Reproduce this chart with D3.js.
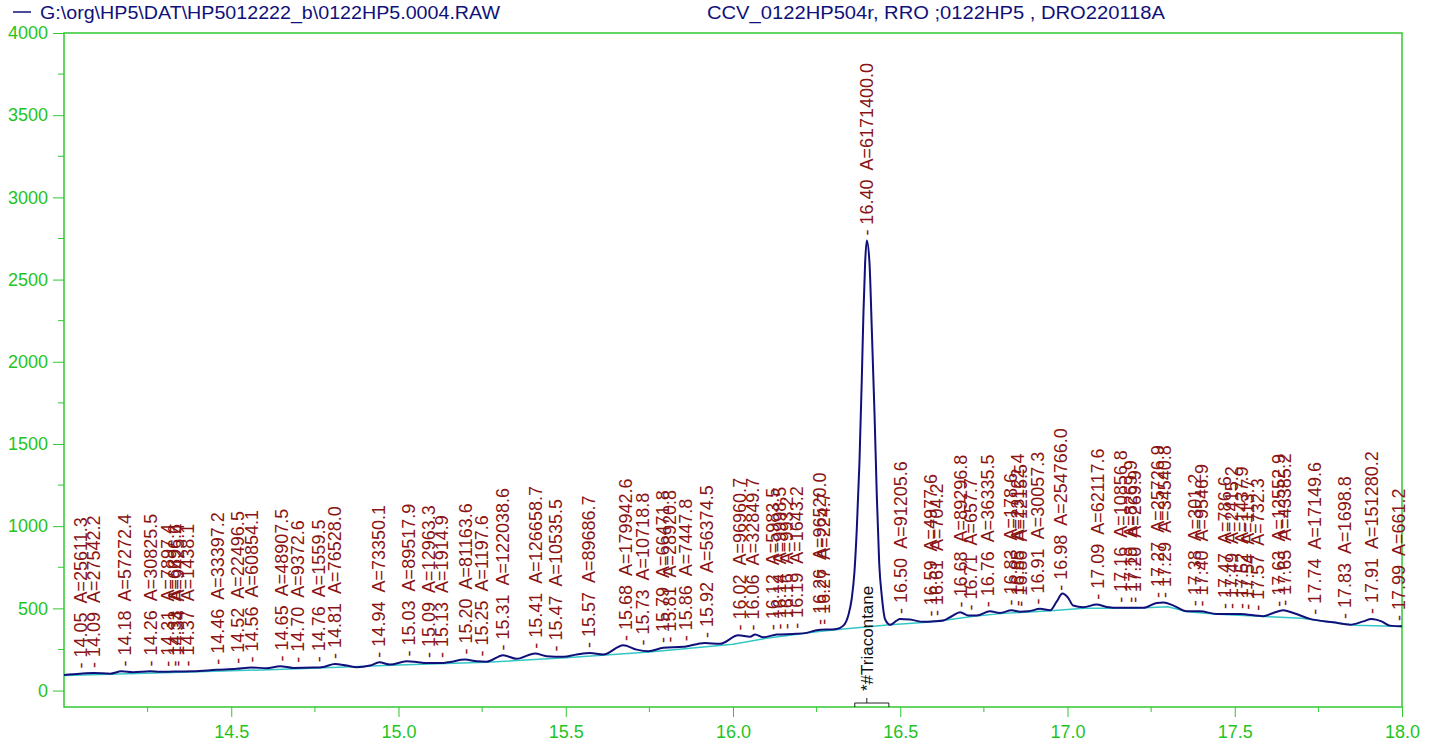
<!DOCTYPE html>
<html><head><meta charset="utf-8">
<script src="https://cdn.jsdelivr.net/npm/d3@7"></script>
<style>
html,body{margin:0;padding:0;background:#fff;overflow:hidden}
text{font-family:"Liberation Sans",Arial,Helvetica,sans-serif}
</style></head>
<body><svg id="c" width="1429" height="747"></svg>
<script>
// ---- data ----
const headerLeft = "G:\\org\\HP5\\DAT\\HP5012222_b\\0122HP5.0004.RAW";
const headerRight = "CCV_0122HP504r, RRO ;0122HP5 , DRO220118A";
const xTicks = [14.5, 15.0, 15.5, 16.0, 16.5, 17.0, 17.5, 18.0];
const yTicks = [0, 500, 1000, 1500, 2000, 2500, 3000, 3500, 4000];

const traceRt = [14.00,14.048,14.088,14.138,14.172,14.207,14.257,14.287,14.33,14.387,14.456,14.516,14.561,14.606,14.646,14.686,14.745,14.775,14.810,14.845,14.875,14.915,14.943,14.975,15.024,15.054,15.084,15.134,15.154,15.199,15.234,15.264,15.313,15.353,15.408,15.443,15.493,15.533,15.572,15.612,15.672,15.712,15.747,15.792,15.851,15.916,15.961,16.016,16.051,16.066,16.091,16.131,16.190,16.220,16.250,16.310,16.330,16.345,16.355,16.363,16.370,16.378,16.385,16.390,16.395,16.400,16.408,16.415,16.423,16.430,16.437,16.445,16.455,16.470,16.489,16.499,16.529,16.569,16.599,16.629,16.654,16.679,16.704,16.729,16.768,16.798,16.833,16.858,16.883,16.918,16.948,16.968,16.985,17.002,17.017,17.047,17.087,17.117,17.157,17.227,17.267,17.287,17.317,17.356,17.396,17.446,17.516,17.585,17.615,17.645,17.675,17.725,17.795,17.845,17.884,17.909,17.939,17.964,18.000];
const traceVal = [95,103,107,103,117,111,117,114,116,117,126,132,140,136,148,138,140,144,162,152,142,152,172,158,178,174,168,168,174,189,178,176,215,193,225,209,205,219,229,219,276,249,239,260,266,290,284,336,327,341,324,341,345,351,367,375,395,460,560,720,979,1386,1891,2299,2603,2737,2603,2195,1690,1180,778,572,432,400,425,436,432,418,421,426,452,476,456,456,482,472,488,480,482,497,488,543,590,564,517,507,523,509,503,503,533,535,517,482,482,466,466,452,472,488,472,436,415,401,421,436,421,395,391];

const baseRt  = [14.0,14.3,14.7,15.0,15.26,15.5,15.75,16.0,16.1,16.25,16.33,16.47,16.6,16.72,16.8,16.95,17.05,17.2,17.3,17.36,17.45,17.59,17.7,17.8,17.86,18.0];
const baseVal = [91,108,132,155,172,200,235,282,318,358,375,400,418,452,468,486,500,500,510,480,464,450,440,412,398,390];

const peakRt = ["14.05","14.09","14.18","14.26","14.31","14.33","14.34","14.37","14.46","14.52","14.56","14.65","14.70","14.76","14.81","14.94","15.03","15.09","15.13","15.20","15.25","15.31","15.41","15.47","15.57","15.68","15.73","15.79","15.81","15.86","15.92","16.02","16.06","16.12","16.14","16.16","16.19","16.26","16.27","16.40","16.50","16.59","16.61","16.68","16.71","16.76","16.83","16.85","16.86","16.91","16.98","17.09","17.16","17.19","17.20","17.27","17.29","17.38","17.40","17.47","17.49","17.52","17.54","17.57","17.63","17.65","17.74","17.83","17.91","17.99"];
const peakArea = ["25611.3","27542.2","57272.4","30825.5","7897.4","6696.6","9425.4","1438.1","33397.2","22496.5","60854.1","48907.5","9372.6","1559.5","76528.0","73350.1","89517.9","12963.3","1914.9","81163.6","1197.6","122038.6","126658.7","10535.5","89686.7","179942.6","10718.8","66471.8","28920.8","7447.8","56374.5","96960.7","32849.7","5983.5","9998.5","993.2","1643.2","96520.0","224.7","6171400.0","91205.6","4977.6","704.2","89296.8","657.7","36335.5","178.6","23122.4","1215.5","30057.3","254766.0","62117.6","10856.8","8269.9","269.9","25726.9","34540.8","301.2","9546.9","786.6","2415.2","1437.9","113.7","732.3","12552.9","43385.2","17149.6","1698.8","151280.2","661.2"];

const compoundName = "*#Triacontane";
const compoundRt = 16.40, compoundStart = 16.364, compoundEnd = 16.466;

// ---- drawing ----
const svg = d3.select("#c");
const x = d3.scaleLinear().domain([14, 18]).range([64, 1402]);
const y = d3.scaleLinear().domain([-100, 4000]).range([707, 33]);
const green = "#2fc82f", greenText = "#1fc41f", navy = "#10107a", red = "#8a1414";

// header
svg.append("line").attr("x1", 13).attr("x2", 31).attr("y1", 12).attr("y2", 12).attr("stroke", navy).attr("stroke-width", 1.5);
svg.append("text").attr("x", 40).attr("y", 19).attr("fill", navy).attr("font-size", 18)
  .attr("textLength", 460).attr("lengthAdjust", "spacingAndGlyphs").text(headerLeft);
svg.append("text").attr("x", 707).attr("y", 19).attr("fill", navy).attr("font-size", 18)
  .attr("textLength", 458).attr("lengthAdjust", "spacingAndGlyphs").text(headerRight);

// frame
svg.append("rect").attr("x", x(14)).attr("y", y(4000)).attr("width", x(18) - x(14)).attr("height", y(-100) - y(4000))
  .attr("fill", "none").attr("stroke", green).attr("stroke-width", 1.5);

// x axis
const xAxis = d3.axisBottom(x).tickValues(xTicks).tickFormat(d3.format(".1f")).tickSize(10).tickPadding(8);
const gx = svg.append("g").attr("transform", `translate(0,${y(-100)})`).call(xAxis);
gx.select(".domain").remove();
gx.selectAll("line").attr("stroke", green);
gx.selectAll("text").attr("fill", greenText).attr("font-size", 18).attr("font-family", "Liberation Sans, Arial");
const xMinor = d3.range(14.25, 18, 0.5);
svg.append("g").selectAll("line").data(xMinor).join("line")
  .attr("x1", d => x(d)).attr("x2", d => x(d)).attr("y1", y(-100)).attr("y2", y(-100) + 5).attr("stroke", green);

// y axis
const yAxis = d3.axisLeft(y).tickValues(yTicks).tickFormat(d3.format("d")).tickSize(11).tickPadding(5);
const gy = svg.append("g").attr("transform", `translate(${x(14)},0)`).call(yAxis);
gy.select(".domain").remove();
gy.selectAll("line").attr("stroke", green);
gy.selectAll("text").attr("fill", greenText).attr("font-size", 18).attr("font-family", "Liberation Sans, Arial");
const yMinor = d3.range(250, 4000, 500);
svg.append("g").selectAll("line").data(yMinor).join("line")
  .attr("x1", x(14) - 6).attr("x2", x(14)).attr("y1", d => y(d)).attr("y2", d => y(d)).attr("stroke", green);

// baseline
const basePts = baseRt.map((r, i) => [r, baseVal[i]]);
svg.append("path").datum(basePts).attr("fill", "none").attr("stroke", "#33c6c6").attr("stroke-width", 1.5)
  .attr("d", d3.line().x(d => x(d[0])).y(d => y(d[1])));

// trace
const tracePts = traceRt.map((r, i) => [r, traceVal[i]]);
svg.append("path").datum(tracePts).attr("fill", "none").attr("stroke", navy).attr("stroke-width", 2)
  .attr("d", d3.line().curve(d3.curveMonotoneX).x(d => x(d[0])).y(d => y(d[1])));

// interpolate signal at rt
function sig(r) {
  const i = d3.bisectLeft(traceRt, r);
  if (i <= 0) return traceVal[0];
  if (i >= traceRt.length) return traceVal[traceVal.length - 1];
  const r0 = traceRt[i - 1], r1 = traceRt[i];
  const t = (r - r0) / (r1 - r0);
  return traceVal[i - 1] + t * (traceVal[i] - traceVal[i - 1]);
}

// peak labels
svg.append("g").selectAll("text").data(peakRt.map((r, i) => ({ r: +r, s: r, a: peakArea[i] }))).join("text")
  .attr("transform", d => `translate(${x(d.r)},${y(sig(d.r)) - 5}) rotate(-90)`)
  .attr("dy", "0.35em").attr("fill", red).attr("font-size", 18).style("white-space", "pre")
  .text(d => `- ${d.s}  A=${d.a}`);

// compound label + bracket
const by = y(-100) - 4;
svg.append("path").attr("fill", "none").attr("stroke", "#222").attr("stroke-width", 1)
  .attr("d", `M${x(compoundStart)},${y(-100)}V${by}H${x(compoundEnd)}V${y(-100)}M${x(compoundRt)},${by}V${by - 5}`);
svg.append("text").attr("transform", `translate(${x(compoundRt)},${by - 12}) rotate(-90)`)
  .attr("dy", "0.35em").attr("fill", "#111").attr("font-size", 17).text(compoundName);
</script></body></html>
